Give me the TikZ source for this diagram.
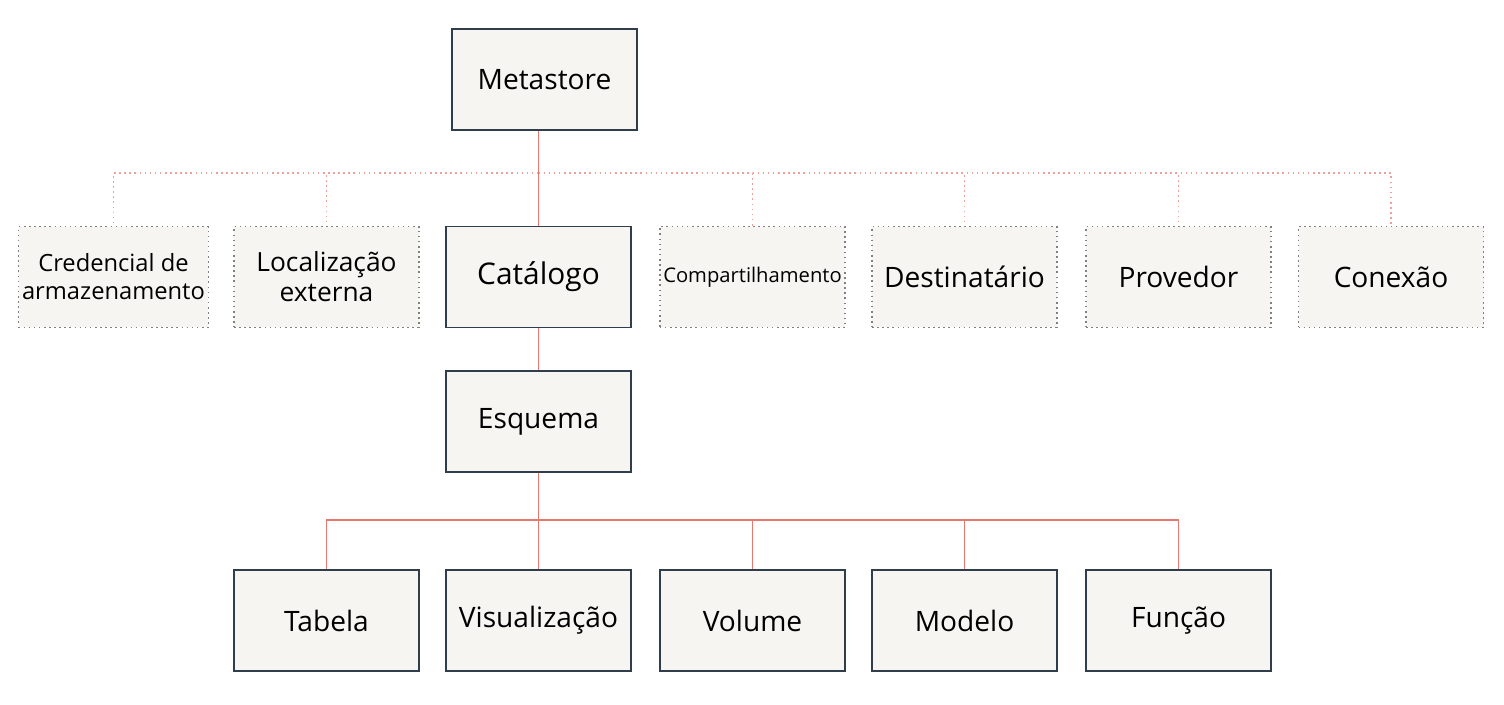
\documentclass[tikz,border=0pt]{standalone}
\usepackage{fontspec}
\setmainfont{Open Sans}
\usetikzlibrary{positioning}
\definecolor{boxfill}{HTML}{F7F5F2}
\definecolor{boxline}{HTML}{2F3E4A}
\definecolor{linkred}{HTML}{E8776F}
\tikzset{
  solidbox/.style={draw=boxline,fill=boxfill,line width=0.9pt,minimum width=3.7cm,minimum height=2.02cm,inner sep=2pt,align=center,font=\fontsize{16}{19}\selectfont},
  dotbox/.style={draw=gray,dotted,fill=boxfill,line width=0.9pt,minimum width=3.7cm,minimum height=2.02cm,inner sep=2pt,align=center,font=\fontsize{16}{19}\selectfont},
  mainlink/.style={draw=linkred,line width=1pt},
  sidelink/.style={draw=linkred!70,dotted,line width=0.9pt}
}
\def\passo{0.02}

\begin{document}
\begin{tikzpicture}[x=\passo cm,y=-\passo cm]
    \useasboundingbox (0,0) rectangle (1504,704);

    \node [solidbox] (meta) at (544.5,79.5) {Metastore};

    \node [dotbox,font=\fontsize{13.5}{16}\selectfont] (cred) at (113.5,277) {Credencial de\\armazenamento};
    \node [dotbox,font=\fontsize{15}{17}\selectfont] (loc) at (326.5,277) {Localização\\externa};
    \node [solidbox,font=\fontsize{17}{20}\selectfont] (cat) at (538.5,277) {Catálogo};
    \node [dotbox,font=\fontsize{11.5}{14}\selectfont] (comp) at (752.5,277) {Compartilhamento};
    \node [dotbox] (dest) at (964.5,277) {Destinatário};
    \node [dotbox] (prov) at (1178.5,277) {Provedor};
    \node [dotbox] (conx) at (1391,277) {Conexão};

    \node [solidbox] (esq) at (538.5,421.5) {Esquema};

    \node [solidbox] (tab) at (326.5,620.5) {Tabela};
    \node [solidbox] (vis) at (538.5,620.5) {Visualização};
    \node [solidbox] (vol) at (752.5,620.5) {Volume};
    \node [solidbox] (mod) at (964.5,620.5) {Modelo};
    \node [solidbox] (fun) at (1178.5,620.5) {Função};

    % linhas tracejadas para os objetos do metastore
    \coordinate (topbus) at (538.5,173);
    \foreach \n in {cred,loc,comp,dest,prov,conx}
        \draw [sidelink] (topbus) -| (\n.north);

    \draw [mainlink] (meta.south -| cat.north) -- (cat.north);
    \draw [mainlink] (cat.south) -- (esq.north);

    % barramento do esquema
    \coordinate (lowbus) at (538.5,520);
    \draw [mainlink] (esq.south) -- (lowbus);
    \foreach \n in {tab,vis,vol,mod,fun}
        \draw [mainlink] (lowbus) -| (\n.north);
\end{tikzpicture}
\end{document}
